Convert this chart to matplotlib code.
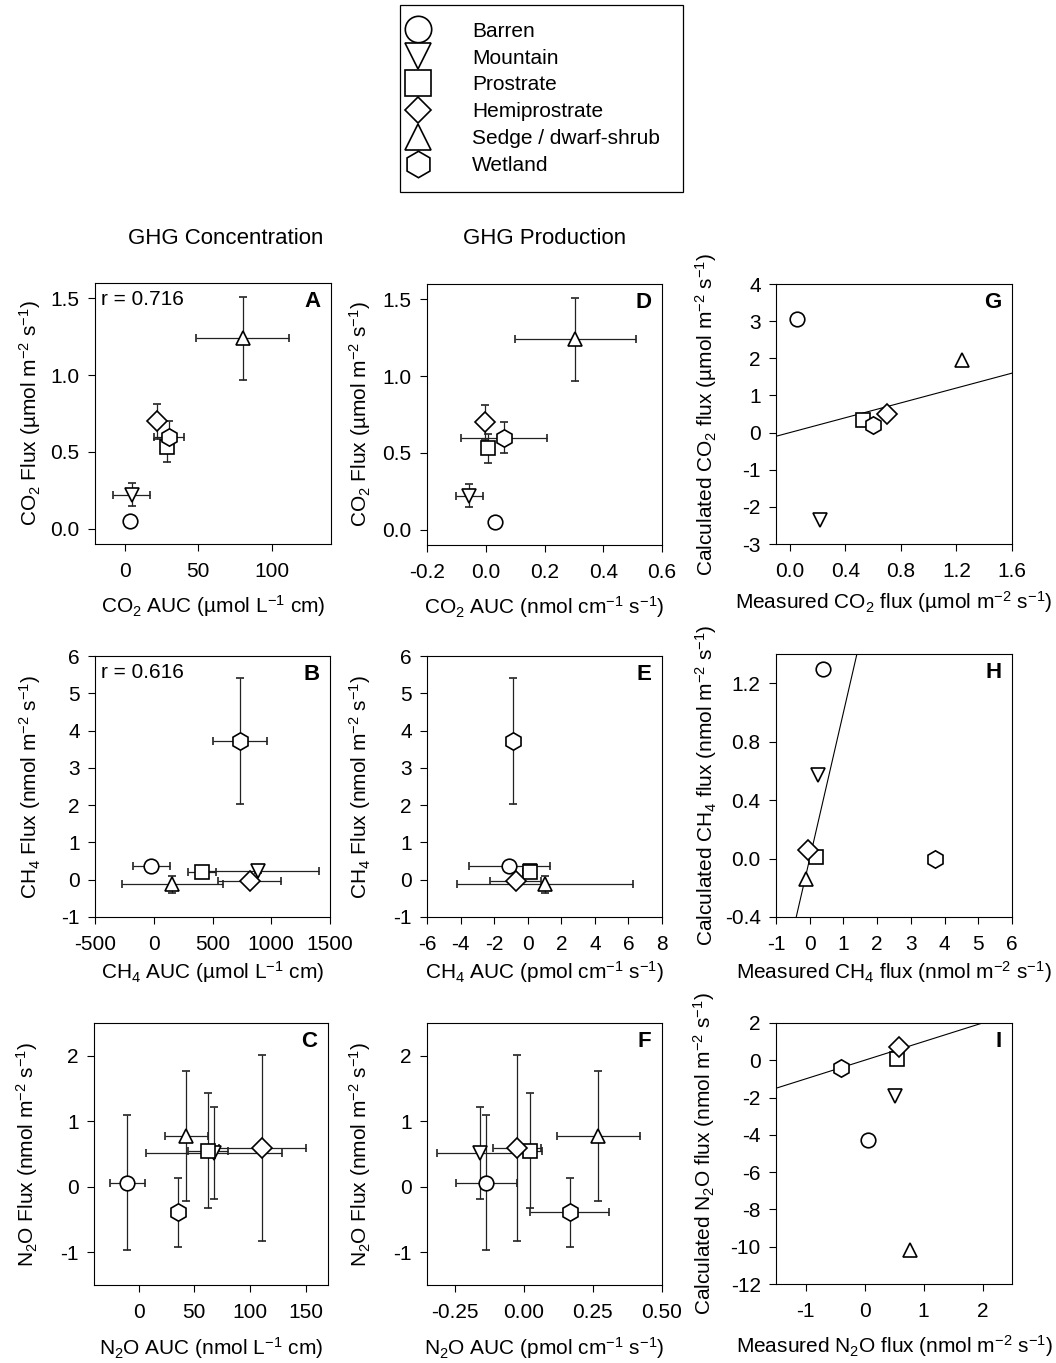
import numpy as np
import matplotlib
matplotlib.use('Agg')
import matplotlib.pyplot as plt
from matplotlib.lines import Line2D
from matplotlib.ticker import FormatStrFormatter

plt.rcParams['font.family'] = ['Liberation Sans', 'DejaVu Sans']
plt.rcParams['mathtext.fontset'] = 'custom'
plt.rcParams['mathtext.rm'] = 'Liberation Sans'
plt.rcParams['mathtext.it'] = 'Liberation Sans:italic'
plt.rcParams['mathtext.bf'] = 'Liberation Sans:bold'
plt.rcParams['axes.unicode_minus'] = False

# vegetation types, same order everywhere
types = ['Barren', 'Mountain', 'Prostrate', 'Hemiprostrate', 'Sedge / dwarf-shrub', 'Wetland']
markers = ['o', 'v', 's', 'D', '^', 'h']

# measured fluxes (mean, se)
co2_flux = [0.05, 0.22, 0.53, 0.70, 1.24, 0.60]
co2_flux_se = [0.02, 0.075, 0.095, 0.115, 0.27, 0.10]
ch4_flux = [0.38, 0.24, 0.20, -0.04, -0.12, 3.72]
ch4_flux_se = [0.05, 0.05, 0.06, 0.05, 0.23, 1.70]
n2o_flux = [0.06, 0.52, 0.55, 0.59, 0.77, -0.39]
n2o_flux_se = [1.03, 0.70, 0.88, 1.42, 0.99, 0.53]

# GHG concentration AUC
co2_conc = [4, 5, 29, 22, 80, 30]
co2_conc_se = [1, 12.5, 3, 2, 31.5, 10]
ch4_conc = [-20, 890, 410, 815, 158, 730]
ch4_conc_se = [155, 520, 116, 265, 428, 230]
n2o_conc = [-10, 68, 62, 111, 43, 35]
n2o_conc_se = [16, 61, 18, 39, 19, 2]

# GHG production AUC
co2_prod = [0.03, -0.056, 0.008, -0.003, 0.305, 0.062]
co2_prod_se = [0.012, 0.046, 0.01, 0.008, 0.205, 0.147]
ch4_prod = [-1.1, 0.12, 0.12, -0.72, 1.03, -0.9]
ch4_prod_se = [2.4, 0.3, 0.4, 1.5, 5.24, 0.1]
n2o_prod = [-0.135, -0.157, 0.022, -0.024, 0.27, 0.167]
n2o_prod_se = [0.11, 0.157, 0.045, 0.087, 0.15, 0.143]

# calculated fluxes
co2_calc = [3.05, -2.35, 0.33, 0.50, 1.95, 0.20]
ch4_calc = [1.30, 0.57, 0.01, 0.06, -0.14, 0.00]
n2o_calc = [-4.3, -1.9, 0.08, 0.70, -10.15, -0.42]

W, H = 1056., 1363.
fig = plt.figure(figsize=(W/100, H/100), dpi=100)

def box(x0, y0, x1, y1):
    return [x0/W, 1-y1/H, (x1-x0)/W, (y1-y0)/H]

msize = {'o': 10.5, 'v': 10.5, 's': 10.5, 'D': 10.5, '^': 10.5, 'h': 12.5}

def panel(rect, x, y, xerr, yerr, letter, xlim, ylim, xticks, yticks,
          xlabel, ylabel, xfmt=None, yfmt=None, xl_y=-0.2, yl_x=-0.23,
          oneone=False, rtext=None):
    ax = fig.add_axes(box(*rect))
    for i in range(len(types)):
        ax.errorbar(x[i], y[i],
                    xerr=None if xerr is None else xerr[i],
                    yerr=None if yerr is None else yerr[i],
                    marker=markers[i], ms=msize[markers[i]], mfc='white', mec='black', mew=1.2,
                    ecolor='#222222', elinewidth=0.9, capsize=3, capthick=0.9, ls='none')
    if oneone:
        ax.axline((0, 0), slope=1, color='black', lw=0.8, zorder=1)
    ax.set_xlim(xlim)
    ax.set_ylim(ylim)
    ax.set_xticks(xticks)
    ax.set_yticks(yticks)
    if xfmt:
        ax.xaxis.set_major_formatter(FormatStrFormatter(xfmt))
    if yfmt:
        ax.yaxis.set_major_formatter(FormatStrFormatter(yfmt))
    ax.tick_params(direction='out', length=5, width=0.8, labelsize=15)
    ax.tick_params(axis='x', pad=8)
    ax.tick_params(axis='y', pad=6)
    for s in ax.spines.values():
        s.set_linewidth(0.8)
    ax.set_xlabel(xlabel, fontsize=15)
    ax.set_ylabel(ylabel, fontsize=15)
    ax.xaxis.set_label_coords(0.5, xl_y)
    ax.yaxis.set_label_coords(yl_x, 0.5)
    ax.text(0.955, 0.928, letter, transform=ax.transAxes, ha='right', va='center',
            fontsize=16, fontweight='bold')
    if rtext:
        ax.text(0.025, 0.935, rtext, transform=ax.transAxes, ha='left', va='center', fontsize=15)
    return ax

co2_y = 'CO$_2$ Flux (µmol m$^{-2}$ s$^{-1}$)'
ch4_y = 'CH$_4$ Flux (nmol m$^{-2}$ s$^{-1}$)'
n2o_y = 'N$_2$O Flux (nmol m$^{-2}$ s$^{-1}$)'

# column 1 - concentration
panel((95, 283, 331, 544), co2_conc, co2_flux, co2_conc_se, co2_flux_se, 'A',
      (-20, 140), (-0.1, 1.6), [0, 50, 100], [0, 0.5, 1.0, 1.5],
      'CO$_2$ AUC (µmol L$^{-1}$ cm)', co2_y, yfmt='%.1f', xl_y=-0.19, yl_x=-0.22,
      rtext='r = 0.716')
panel((95, 656, 330, 917), ch4_conc, ch4_flux, ch4_conc_se, ch4_flux_se, 'B',
      (-500, 1500), (-1, 6), [-500, 0, 500, 1000, 1500], range(-1, 7),
      'CH$_4$ AUC (µmol L$^{-1}$ cm)', ch4_y, xl_y=-0.16, yl_x=-0.22,
      rtext='r = 0.616')
panel((94, 1023, 328, 1285), n2o_conc, n2o_flux, n2o_conc_se, n2o_flux_se, 'C',
      (-40, 170), (-1.5, 2.5), [0, 50, 100, 150], [-1, 0, 1, 2],
      'N$_2$O AUC (nmol L$^{-1}$ cm)', n2o_y, xl_y=-0.19, yl_x=-0.23)

# column 2 - production
panel((427, 284, 662, 545), co2_prod, co2_flux, co2_prod_se, co2_flux_se, 'D',
      (-0.2, 0.6), (-0.1, 1.6), [-0.2, 0.0, 0.2, 0.4, 0.6], [0, 0.5, 1.0, 1.5],
      'CO$_2$ AUC (nmol cm$^{-1}$ s$^{-1}$)', co2_y, xfmt='%.1f', yfmt='%.1f',
      xl_y=-0.19, yl_x=-0.23)
panel((427, 656, 662, 917), ch4_prod, ch4_flux, ch4_prod_se, ch4_flux_se, 'E',
      (-6, 8), (-1, 6), range(-6, 9, 2), range(-1, 7),
      'CH$_4$ AUC (pmol cm$^{-1}$ s$^{-1}$)', ch4_y, xl_y=-0.16, yl_x=-0.23)
panel((427, 1023, 662, 1285), n2o_prod, n2o_flux, n2o_prod_se, n2o_flux_se, 'F',
      (-0.35, 0.5), (-1.5, 2.5), [-0.25, 0.0, 0.25, 0.5], [-1, 0, 1, 2],
      'N$_2$O AUC (pmol cm$^{-1}$ s$^{-1}$)', n2o_y, xfmt='%.2f', xl_y=-0.19, yl_x=-0.23)

# column 3 - measured vs calculated
panel((776, 284, 1012, 544), co2_flux, co2_calc, None, None, 'G',
      (-0.1, 1.6), (-3, 4), [0.0, 0.4, 0.8, 1.2, 1.6], range(-3, 5),
      'Measured CO$_2$ flux (µmol m$^{-2}$ s$^{-1}$)',
      'Calculated CO$_2$ flux (µmol m$^{-2}$ s$^{-1}$)', xfmt='%.1f',
      xl_y=-0.175, yl_x=-0.24, oneone=True)
panel((776, 654, 1012, 917), ch4_flux, ch4_calc, None, None, 'H',
      (-1, 6), (-0.4, 1.4), range(-1, 7), [-0.4, 0.0, 0.4, 0.8, 1.2],
      'Measured CH$_4$ flux (nmol m$^{-2}$ s$^{-1}$)',
      'Calculated CH$_4$ flux (nmol m$^{-2}$ s$^{-1}$)', yfmt='%.1f',
      xl_y=-0.16, yl_x=-0.24, oneone=True)
panel((776, 1023, 1012, 1284), n2o_flux, n2o_calc, None, None, 'I',
      (-1.5, 2.5), (-12, 2), [-1, 0, 1, 2], range(-12, 3, 2),
      'Measured N$_2$O flux (nmol m$^{-2}$ s$^{-1}$)',
      'Calculated N$_2$O flux (nmol m$^{-2}$ s$^{-1}$)',
      xl_y=-0.19, yl_x=-0.25, oneone=True)

fig.text(226/W, 1-238/H, 'GHG Concentration', ha='center', va='center', fontsize=16)
fig.text(545/W, 1-238/H, 'GHG Production', ha='center', va='center', fontsize=16)

# legend
handles = []
for i in range(len(types)):
    handles.append(Line2D([], [], marker=markers[i], ls='none', mfc='white', mec='black',
                          mew=1.2, ms=13.5 if markers[i] == 'D' else 19))
leg = fig.legend(handles, types, loc='upper left',
                 bbox_to_anchor=(400/W, 1-189/H, 283/W, 184/H), mode='expand',
                 borderaxespad=0, fontsize=15, labelspacing=0.38, handlelength=0.1,
                 handletextpad=2.55, borderpad=0.8, fancybox=False, framealpha=1,
                 edgecolor='black')
leg.get_frame().set_linewidth(0.9)

fig.savefig('out.png', dpi=100)
